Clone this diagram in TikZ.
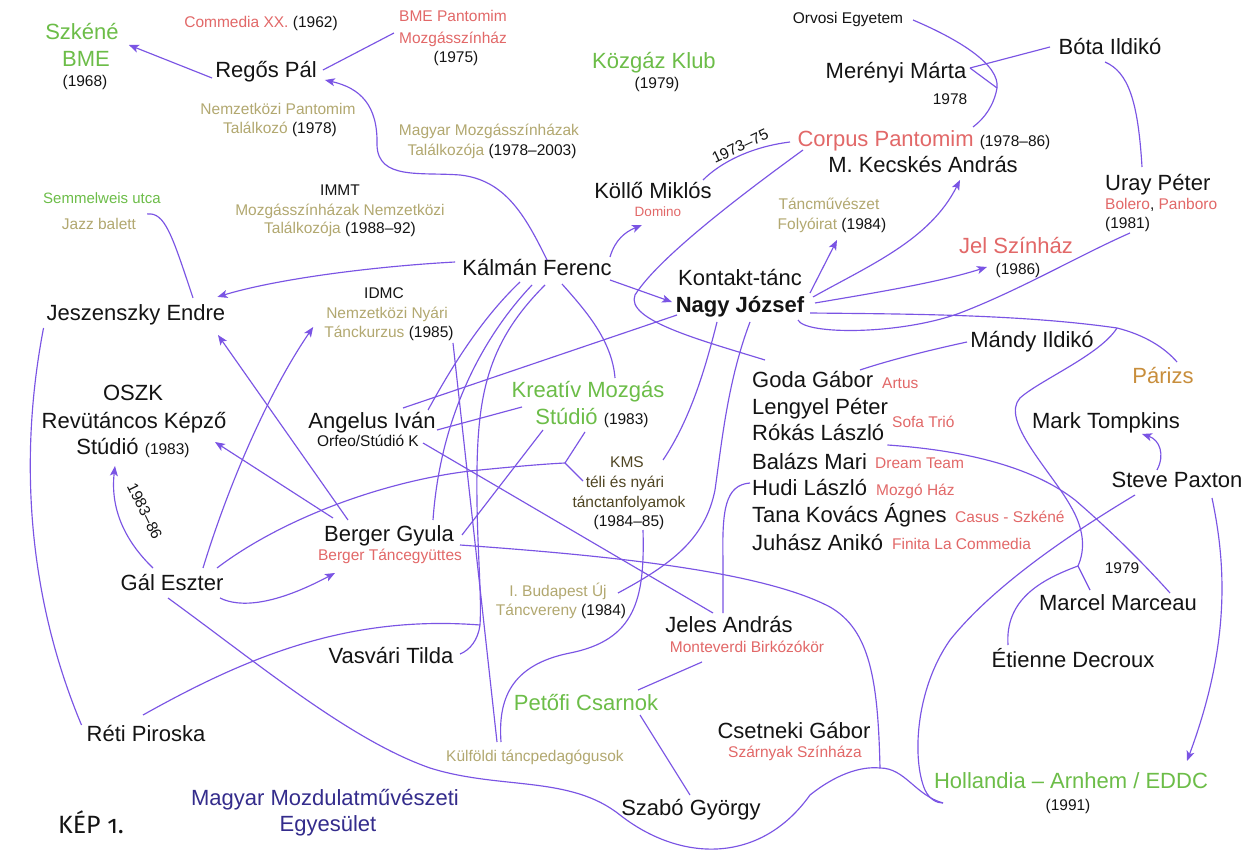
\documentclass[tikz,border=0pt]{standalone}
\usepackage{fontspec}
\setmainfont{Liberation Sans}
\newfontfamily\kepf[Numbers=OldStyle]{Fira Sans}
\usetikzlibrary{arrows.meta}
\newcommand\szL{\fontsize{22pt}{26pt}\selectfont}
\newcommand\szM{\fontsize{15.5pt}{18pt}\selectfont}
\newcommand\szS{\fontsize{13.5pt}{16pt}\selectfont}
\definecolor{lnc}{RGB}{122,84,228}
\definecolor{grn}{RGB}{108,189,72}
\definecolor{rd}{RGB}{226,104,104}
\definecolor{kh}{RGB}{178,168,112}
\definecolor{par}{RGB}{200,142,60}
\definecolor{dkb}{RGB}{52,44,140}
\definecolor{olv}{RGB}{80,70,35}
\definecolor{txt}{RGB}{20,20,20}
\tikzset{
  tb/.style={inner sep=0pt, text=txt},
  L/.style={tb, font=\szL, text height=15.8pt, text depth=0pt},
  M/.style={tb, font=\szM, text height=11.2pt, text depth=0pt},
  S/.style={tb, font=\szS, text height=9.7pt, text depth=0pt},
  ln/.style={draw=lnc, line width=1.15pt},
  arr/.style={ln, -{Stealth[length=10pt,width=8pt,inset=2.5pt]}},
}
\begin{document}
\begin{tikzpicture}[x=1pt,y=-1pt]
\fill[white] (0,0) rectangle (1251,858);
\useasboundingbox (0,0) rectangle (1251,858);

% ---------- nodes ----------
\node[L,text=grn] (szk1) at (82,32) {Szkéné};
\node[L,text=grn] (szk2) at (86,59) {BME};
\node[M] (szk3) at (85,81) {(1968)};
\node[M] (commedia) at (261,22) {{\color{rd}Commedia XX.} (1962)};
\node[M,text=rd] (bmep1) at (453,16) {BME Pantomim};
\node[M,text=rd] (bmep2) at (453,38) {Mozgásszínház};
\node[M] (bmep3) at (456,57) {(1975)};
\node[L] (regos) at (266,70) {Regős Pál};
\node[M,text=kh] (npt1) at (278,109) {Nemzetközi Pantomim};
\node[M] (npt2) at (280,128) {{\color{kh}Találkozó} (1978)};
\node[L,text=grn] (kozgaz) at (654,61) {Közgáz Klub};
\node[M] (kozgaz2) at (657,83) {(1979)};
\node[M,text=kh] (mmt1) at (489,130) {Magyar Mozgásszínházak};
\node[M] (mmt2) at (492,150) {{\color{kh}Találkozója} (1978–2003)};
\node[M] (orvosi) at (848,18) {Orvosi Egyetem};
\node[L] (merenyi) at (896,71) {Merényi Márta};
\node[M] (y1978) at (950,99) {1978};
\node[L] (bota) at (1110,47) {Bóta Ildikó};
\node[L] (corpus) at (924,139) {{\color{rd}Corpus Pantomim} {\szM(1978–86)}};
\node[L] (kecskes) at (923,165) {M. Kecskés András};
\node[M,rotate=25] (y7375) at (740,146) {1973–75};
\node[L] (kollo) at (653,191) {Köllő Miklós};
\node[S,text=rd] (domino) at (658,212) {Domino};
\node[M,text=grn,font=\fontsize{15pt}{18pt}\selectfont] (semm) at (102,198) {Semmelweis utca};
\node[M,text=kh] (jazz) at (99,224) {Jazz balett};
\node[M] (immt1) at (340,190) {IMMT};
\node[M,text=kh] (immt2) at (340,210) {Mozgásszínházak Nemzetközi};
\node[M] (immt3) at (340,228) {{\color{kh}Találkozója} (1988–92)};
\node[M,text=kh] (tanc1) at (829,204) {Táncművészet};
\node[M] (tanc2) at (832,224) {{\color{kh}Folyóirat} (1984)};
\node[L,anchor=west] (uray) at (1105,183) {Uray Péter};
\node[M,anchor=west] (uray2) at (1105,204) {{\color{rd}Bolero}, {\color{rd}Panboro}};
\node[M,anchor=west] (uray3) at (1105,223) {(1981)};
\node[L] (kalman) at (537,268) {Kálmán Ferenc};
\node[L,text=rd] (jel) at (1016,246) {Jel Színház};
\node[M] (jel2) at (1018,269) {(1986)};
\node[L] (kontakt) at (740,278) {Kontakt-tánc};
\node[L,font=\szL\bfseries] (nagy) at (740,305) {Nagy József};
\node[L] (jesz) at (136,313) {Jeszenszky Endre};
\node[M] (idmc1) at (384,293) {IDMC};
\node[M,text=kh] (idmc2) at (387,313) {Nemzetközi Nyári};
\node[M] (idmc3) at (389,332) {{\color{kh}Tánckurzus} (1985)};
\node[L] (mandy) at (1032,340) {Mándy Ildikó};
\node[L,text=par] (parizs) at (1163,376) {Párizs};
\node[L] (oszk1) at (133,393) {OSZK};
\node[L] (oszk2) at (134,421) {Revütáncos Képző};
\node[L] (oszk3) at (133,447) {Stúdió {\szM(1983)}};
\node[L] (angelus) at (372,421) {Angelus Iván};
\node[M] (orfeo) at (368,441) {Orfeo/Stúdió K};
\node[L,text=grn] (kreativ1) at (588,390) {Kreatív Mozgás};
\node[L] (kreativ2) at (592,417) {{\color{grn}Stúdió} {\szM(1983)}};
\node[L,anchor=west] (goda) at (752,380) {Goda Gábor};
\node[M,anchor=west,text=rd] (artus) at (882,383) {Artus};
\node[L,anchor=west] (lengyel) at (752,407) {Lengyel Péter};
\node[M,anchor=west,text=rd] (sofa) at (892,422) {Sofa Trió};
\node[L,anchor=west] (rokas) at (752,433) {Rókás László};
\node[L,anchor=west] (balazs) at (752,462) {Balázs Mari};
\node[M,anchor=west,text=rd] (dream) at (875,463) {Dream Team};
\node[L,anchor=west] (hudi) at (752,488) {Hudi László};
\node[M,anchor=west,text=rd] (mozgo) at (876,490) {Mozgó Ház};
\node[L,anchor=west] (tana) at (752,515) {Tana Kovács Ágnes};
\node[M,anchor=west,text=rd] (casus) at (955,517) {Casus - Szkéné};
\node[L,anchor=west] (juhasz) at (752,543) {Juhász Anikó};
\node[M,anchor=west,text=rd] (finita) at (892,544) {Finita La Commedia};
\node[L] (mark) at (1106,421) {Mark Tompkins};
\node[L] (steve) at (1177,480) {Steve Paxton};
\node[M,text=olv] (kms1) at (627,462) {KMS};
\node[M,text=olv] (kms2) at (625,482) {téli és nyári};
\node[M,text=olv] (kms3) at (629,502) {tánctanfolyamok};
\node[M] (kms4) at (629,521) {(1984–85)};
\node[M,rotate=-64] (y8386) at (145,511) {1983–86};
\node[L] (berger) at (389,534) {Berger Gyula};
\node[M,text=rd] (bergert) at (390,555) {Berger Táncegyüttes};
\node[L] (gal) at (172,583) {Gál Eszter};
\node[M,text=kh] (bud1) at (558,591) {I. Budapest Új};
\node[M] (bud2) at (561,610) {{\color{kh}Táncvereny} (1984)};
\node[L] (jeles) at (729,625) {Jeles András};
\node[M,text=rd] (monte) at (747,647) {Monteverdi Birkózókör};
\node[M] (y1979) at (1122,568) {1979};
\node[L] (marcel) at (1118,603) {Marcel Marceau};
\node[L] (etienne) at (1073,660) {Étienne Decroux};
\node[L] (vasvari) at (391,656) {Vasvári Tilda};
\node[L,text=grn] (petofi) at (586,703) {Petőfi Csarnok};
\node[L] (reti) at (146,734) {Réti Piroska};
\node[L] (csetneki) at (794,731) {Csetneki Gábor};
\node[M,text=rd] (szarnyak) at (795,752) {Szárnyak Színháza};
\node[M,text=kh] (kulfoldi) at (535,756) {Külföldi táncpedagógusok};
\node[L,text=grn] (holl) at (1071,781) {Hollandia – Arnhem / EDDC};
\node[M] (holl2) at (1068,805) {(1991)};
\node[L,text=dkb] (mme1) at (325,798) {Magyar Mozdulatművészeti};
\node[L,text=dkb] (mme2) at (328,824) {Egyesület};
\node[L] (szabo) at (691,808) {Szabó György};
\node[tb,font=\kepf\fontsize{25pt}{30pt}\selectfont] (kep) at (91,822) {KÉP 1.};

% ---------- connectors ----------
\draw[arr] ([shift={(-3,8)}]regos.west) -- ([shift={(10,13)}]szk1.east);
\draw[ln] ([shift={(6,0)}]regos.east) -- ([shift={(-5,-5)}]bmep2.west);
\draw[arr] ([shift={(10,-8)}]kalman.center) .. controls (525,215) and (505,180) .. (460,175)
  .. controls (420,172) and (378,180) .. (377,145) .. controls (378,105) and (360,88) .. ([shift={(8,10)}]regos.east);
\draw[arr] ([shift={(-7,-6)}]kalman.west) .. controls (380,266) and (280,278) .. ([shift={(-8,-8)}]jesz.north east);
\draw[ln] ([shift={(11,-10)}]jazz.east) .. controls (165,212) and (172,235) .. ([shift={(57,-7)}]jesz.north);
\draw[ln] ([shift={(-3,15)}]jesz.west) .. controls (20,450) and (25,590) .. ([shift={(-5,-9)}]reti.west);
\draw[arr] ([shift={(-19,-15)}]gal.center) .. controls (126,542) and (110,510) .. ([shift={(-18,19)}]oszk3.center);
\draw[arr] ([shift={(31,-15)}]gal.center) .. controls (230,480) and (270,390) .. ([shift={(-11,-5)}]idmc3.west);
\draw[ln] ([shift={(45,-15)}]gal.center) .. controls (280,520) and (380,482) .. (470,471)
  .. controls (520,466) and (545,464) .. (565,463) coordinate (kmsj);
\draw[ln] (kmsj) -- ([shift={(-7,15)}]kreativ2.center);
\draw[ln] (kmsj) -- ([shift={(-42,-1)}]kms2.center);
\draw[arr] ([shift={(48,15)}]gal.center) .. controls (240,608) and (275,605) .. ([shift={(-55,18)}]bergert.center);
\draw[ln] ([shift={(71,11)}]berger.center) .. controls (600,555) and (760,570) .. (830,607)
  .. controls (870,630) and (878,680) .. (880,768) coordinate (j1);
\draw[ln] ([shift={(-4,15)}]gal.center) .. controls (260,665) and (350,740) .. (430,768)
  .. controls (500,790) and (570,775) .. (620,815) .. controls (680,862) and (760,865) .. (810,795)
  .. controls (835,775) and (860,766) .. (j1);
\draw[ln] (j1) .. controls (905,768) and (915,795) .. ([shift={(-128,22)}]holl.center);
\draw[ln] ([shift={(-42,15)}]steve.center) .. controls (1060,540) and (990,590) .. (950,640)
  .. controls (915,690) and (912,760) .. (925,790) .. controls (930,800) and (937,803) .. ([shift={(-128,22)}]holl.center);
\draw[arr] ([shift={(73,-11)}]kalman.center) .. controls (615,240) and (625,232) .. ([shift={(-16,13)}]domino.center);
\draw[ln] ([shift={(50,-11)}]kollo.center) .. controls (720,163) and (750,147) .. ([shift={(-134,3)}]corpus.center);
\draw[ln] ([shift={(-121,11)}]corpus.center) .. controls (755,185) and (660,255) .. (635,295)
  .. controls (625,320) and (700,340) .. ([shift={(13,-20)}]goda.west);
\draw[ln] ([shift={(65,2)}]orvosi.center) .. controls (960,40) and (1000,65) .. (997,88) coordinate (oj)
  .. controls (994,105) and (985,118) .. ([shift={(49,-12)}]corpus.center);
\draw[ln] ([shift={(74,-3)}]merenyi.center) -- (oj);
\draw[ln] ([shift={(74,-3)}]merenyi.center) -- ([shift={(-60,0)}]bota.center);
\draw[ln] ([shift={(-5,15)}]bota.center) .. controls (1128,72) and (1138,100) .. ([shift={(37,-16)}]uray.west);
\draw[ln] ([shift={(58,15)}]nagy.center) .. controls (805,335) and (900,335) .. (960,313)
  .. controls (1020,290) and (1080,255) .. ([shift={(25,10)}]uray3.west);
\draw[ln] ([shift={(70,8)}]nagy.center) .. controls (900,314) and (1020,314) .. (1117,328) coordinate (pj)
  .. controls (1145,335) and (1165,348) .. ([shift={(14,-14)}]parizs.center);
\draw[ln] (pj) .. controls (1100,355) and (1040,380) .. (1020,398) .. controls (1000,420) and (1050,470) .. (1070,505)
  .. controls (1085,530) and (1085,550) .. (1078,566) coordinate (mj);
\draw[ln] (mj) -- ([shift={(-28,-13)}]marcel.center);
\draw[ln] (mj) .. controls (1040,580) and (1005,600) .. ([shift={(-65,-15)}]etienne.center);
\draw[ln] ([shift={(3,12)}]rokas.east) .. controls (960,450) and (1030,465) .. (1075,500)
  .. controls (1110,530) and (1145,565) .. ([shift={(52,-10)}]marcel.center);
\draw[arr] ([shift={(-20,-10)}]steve.center) .. controls (1165,455) and (1160,440) .. ([shift={(36,13)}]mark.center);
\draw[arr] ([shift={(35,18)}]steve.center) .. controls (1225,560) and (1232,640) .. ([shift={(116,-20)}]holl.center);
\draw[ln] ([shift={(-2,-5)}]hudi.west) .. controls (725,485) and (722,510) .. (723,560) -- ([shift={(-6,-12)}]jeles.center);
\draw[ln] ([shift={(55,2)}]orfeo.center) -- ([shift={(-16,-12)}]jeles.center);
\draw[ln] ([shift={(31,-13)}]angelus.center) -- ([shift={(-63,10)}]nagy.center);
\draw[ln] ([shift={(65,9)}]angelus.center) -- ([shift={(-70,-10)}]kreativ2.center);
\draw[ln] ([shift={(-17,14)}]kalman.center) .. controls (480,320) and (450,370) .. ([shift={(56,-11)}]angelus.center);
\draw[ln] ([shift={(-5,17)}]kalman.center) .. controls (480,340) and (440,420) .. ([shift={(44,-14)}]berger.center);
\draw[ln] ([shift={(8,17)}]kalman.center) .. controls (490,340) and (478,390) .. (477,470)
  .. controls (476,540) and (482,590) .. (480,625) coordinate (vj)
  .. controls (478,640) and (470,650) .. ([shift={(69,-2)}]vasvari.center);
\draw[ln] ([shift={(-3,-19)}]reti.center) .. controls (250,655) and (350,615) .. (vj);
\draw[ln] ([shift={(64,11)}]idmc3.center) -- ([shift={(-38,-14)}]kulfoldi.center);
\draw[ln] ([shift={(14,9)}]kms4.center) .. controls (645,600) and (635,640) .. (570,653)
  .. controls (510,665) and (498,700) .. ([shift={(-34,-14)}]kulfoldi.center);
\draw[ln] ([shift={(-23,17)}]nagy.center) .. controls (705,370) and (690,420) .. ([shift={(36,-2)}]kms1.center);
\draw[ln] ([shift={(10,17)}]nagy.center) .. controls (728,380) and (722,440) .. (715,490)
  .. controls (705,540) and (670,565) .. ([shift={(60,2)}]bud1.center);
\draw[ln] ([shift={(-49,13)}]kreativ2.center) -- ([shift={(73,1)}]berger.center);
\draw[ln] ([shift={(25,16)}]kalman.center) .. controls (585,310) and (612,340) .. ([shift={(27,-12)}]kreativ1.center);
\draw[arr] ([shift={(73,12)}]kalman.center) -- ([shift={(-68,-3)}]nagy.center);
\draw[arr] ([shift={(70,-12)}]nagy.center) -- ([shift={(5,16)}]tanc2.center);
\draw[arr] ([shift={(73,-8)}]nagy.center) .. controls (870,265) and (930,240) .. ([shift={(37,15)}]kecskes.center);
\draw[arr] ([shift={(75,-2)}]nagy.center) .. controls (880,292) and (940,282) .. ([shift={(-31,-2)}]jel2.center);
\draw[ln] ([shift={(-65,2)}]mandy.center) .. controls (930,350) and (890,360) .. ([shift={(108,-10)}]goda.west);
\draw[ln] ([shift={(52,-13)}]petofi.center) -- ([shift={(-45,15)}]monte.center);
\draw[ln] ([shift={(54,12)}]petofi.center) -- ([shift={(-1,-13)}]szabo.center);
\draw[arr] ([shift={(-41,-14)}]berger.center) -- ([shift={(82,22)}]jesz.center);
\draw[arr] ([shift={(-56,-16)}]berger.center) -- ([shift={(82,-5)}]oszk3.center);
\end{tikzpicture}
\end{document}
